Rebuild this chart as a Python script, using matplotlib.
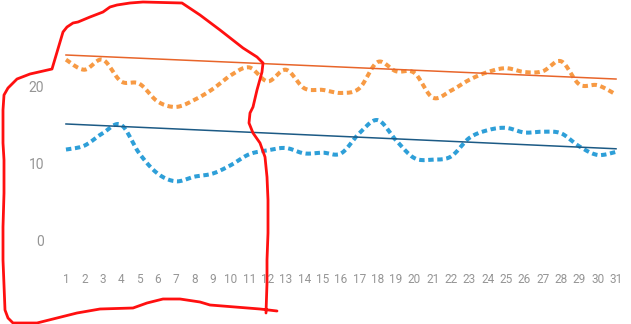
import numpy as np
import matplotlib
matplotlib.use("Agg")
import matplotlib.pyplot as plt
from matplotlib.lines import Line2D

days = list(range(1, 32))
series_orange = [23.4, 22.1, 23.4, 20.6, 20.3, 18.0, 17.3, 18.2, 19.6, 21.4, 22.4,
                 20.6, 22.1, 19.7, 19.5, 19.1, 19.7, 23.1, 21.9, 21.7, 18.5, 19.4,
                 20.8, 21.8, 22.3, 21.8, 21.9, 23.2, 20.2, 20.1, 18.9]
series_blue = [11.8, 12.3, 13.9, 15.0, 11.3, 8.7, 7.7, 8.3, 8.7, 9.8, 11.2,
               11.7, 12.0, 11.3, 11.4, 11.3, 13.9, 15.6, 13.0, 10.7, 10.5, 10.9,
               13.3, 14.3, 14.6, 14.0, 14.1, 13.9, 12.2, 11.1, 11.5]
trend_orange = [24.0, 20.9]   # value at day 1 and day 31
trend_blue = [15.1, 11.9]
y_ticks = [0, 10, 20]

# freehand red annotation (figure pixel coordinates, top-left origin)
scribble = [(266, 313), (267, 283), (267, 260), (268, 233), (268, 200), (267, 177),
            (265, 157), (260, 143), (253, 133), (249, 123), (250, 113), (253, 107),
            (257, 90), (262, 72), (263, 63), (257, 57), (243, 48), (220, 30),
            (200, 15), (182, 3), (143, 2), (130, 3), (117, 5), (110, 7), (103, 12),
            (90, 17), (78, 22), (73, 23), (67, 27), (63, 32), (52, 69), (30, 74),
            (17, 79), (8, 88), (4, 95), (3, 110), (3, 143), (4, 160), (4, 193),
            (3, 227), (3, 260), (5, 310), (8, 318), (13, 323), (37, 323), (57, 318),
            (77, 313), (100, 309), (133, 308), (147, 303), (163, 299), (180, 299),
            (200, 302), (210, 305), (260, 309), (277, 311)]


def smooth(x, y, n=12):
    # Catmull-Rom style smoothing through the points
    x = np.asarray(x, float); y = np.asarray(y, float)
    px = np.concatenate([[x[0]], x, [x[-1]]])
    py = np.concatenate([[y[0]], y, [y[-1]]])
    ox, oy = [], []
    for i in range(1, len(px) - 2):
        t = np.linspace(0, 1, n, endpoint=False)
        for arr, out in ((px, ox), (py, oy)):
            p0, p1, p2, p3 = arr[i - 1], arr[i], arr[i + 1], arr[i + 2]
            out.extend(0.5 * ((2 * p1) + (-p0 + p2) * t +
                              (2 * p0 - 5 * p1 + 4 * p2 - p3) * t ** 2 +
                              (-p0 + 3 * p1 - 3 * p2 + p3) * t ** 3))
    ox.append(x[-1]); oy.append(y[-1])
    return np.array(ox), np.array(oy)


W, H = 631, 324
fig = plt.figure(figsize=(W / 100, H / 100), dpi=100)
left = 56.8 / W
right = 625.2 / W
ymin, ymax = -3, 30
ppu = 7.75
top_px = 241 - ymax * ppu
bot_px = 241 - ymin * ppu
ax = fig.add_axes([left, 1 - bot_px / H, right - left, (bot_px - top_px) / H])
ax.set_xlim(0.5, 31.5)
ax.set_ylim(ymin, ymax)
for s in ax.spines.values():
    s.set_visible(False)

ox, oy = smooth(days, series_orange)
bx, by = smooth(days, series_blue)
ax.plot(ox, oy, color="#F79A44", lw=2.9, ls=(0, (1.35, 0.9)), dash_capstyle="butt")
ax.plot(bx, by, color="#2E9FD8", lw=2.9, ls=(0, (1.35, 0.9)), dash_capstyle="butt")
ax.plot([days[0], days[-1]], trend_orange, color="#E8652A", lw=1.1)
ax.plot([days[0], days[-1]], trend_blue, color="#1C5A85", lw=1.1)

ax.set_xticks(days)
ax.set_xticklabels([str(d) for d in days])
ax.set_yticks(y_ticks)
ax.set_yticklabels([str(v) for v in y_ticks])
ax.tick_params(length=0, colors="#959595")
ax.tick_params(axis="x", pad=6.5, labelsize=8.5)
ax.tick_params(axis="y", pad=9, labelsize=10)
for lab in ax.get_xticklabels() + ax.get_yticklabels():
    lab.set_family(["Liberation Sans Narrow", "Roboto", "DejaVu Sans"])

sx = [p[0] / W for p in scribble]
sy = [1 - p[1] / H for p in scribble]
fig.add_artist(Line2D(sx, sy, transform=fig.transFigure, color="#FF1010", lw=2,
                      solid_joinstyle="round", solid_capstyle="round"))

fig.savefig("out.png", dpi=100, facecolor="white")
